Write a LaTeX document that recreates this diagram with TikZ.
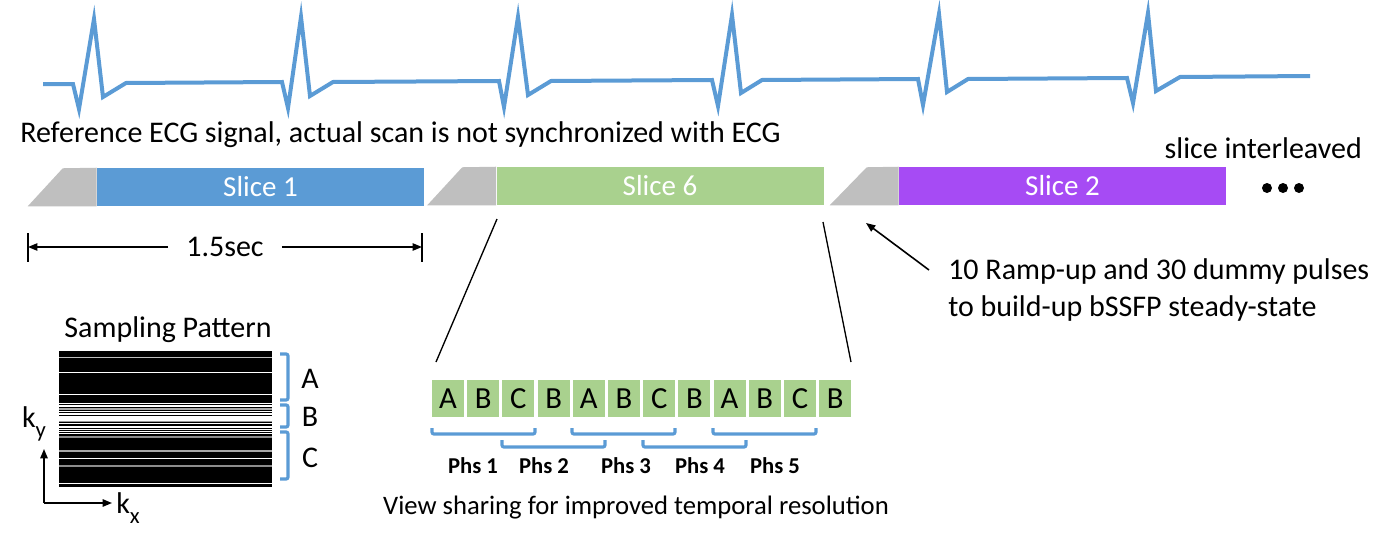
\documentclass[tikz,border=0pt]{standalone}
\usepackage{fontspec}
\setmainfont{Carlito}
\usetikzlibrary{arrows.meta}
\definecolor{ecgblue}{HTML}{5B9BD5}
\definecolor{sgreen}{HTML}{A9D18E}
\definecolor{spurple}{HTML}{A64BF4}
\definecolor{sgray}{HTML}{BFBFBF}
\newcommand{\subl}[1]{\raisebox{-0.35em}{\fontsize{17}{18}\selectfont #1}}
\begin{document}
\begin{tikzpicture}[x=0.75pt,y=-0.75pt,
 txt/.style={font=\fontsize{22.5}{27.75}\selectfont, inner sep=0pt},
 slicebar/.style={minimum width=245.25pt, minimum height=28.5pt, inner sep=0pt, text=white, font=\fontsize{21.75}{26}\selectfont},
 rampfill/.style={fill=sgray},
 blk/.style={fill=sgreen, minimum width=24pt, minimum height=27.75pt, inner sep=0pt, font=\fontsize{23}{26}\selectfont},
 phs/.style={font=\fontsize{17}{20}\selectfont\bfseries, inner sep=0pt},
 bracket/.style={draw=ecgblue, line width=2.4pt, rounded corners=1.5pt},
 tip/.style={-{Triangle[length=7pt,width=5.5pt]}},
 thin/.style={line width=1pt},
 dot/.style={circle, fill=black, minimum size=7.5pt, inner sep=0pt},
]
\useasboundingbox (0,0) rectangle (1392,546);

% ECG reference signal
\draw[ecgblue, line width=3pt, line join=miter]
 (43,84) -- (73,84) -- (79,109) -- (94,19) -- (103,97) -- (126,83)
 -- (282,82) -- (288,108) -- (301,17) -- (310,96) -- (333,82)
 -- (499,81) -- (504,107) -- (518,17) -- (528,95) -- (551,81)
 -- (712,80) -- (718,106) -- (732,15) -- (741,93) -- (762,80)
 -- (918,79) -- (923,105) -- (939,14) -- (947,92) -- (968,79)
 -- (1127,78) -- (1133,103) -- (1148,13) -- (1156,91) -- (1180,77)
 -- (1310,76);

\node[txt, anchor=west] (ref) at (20,135) {Reference ECG signal, actual scan is not synchronized with ECG};

% slices
\node[slicebar, fill=ecgblue] (s1) at (260.5,187) {Slice 1};
\fill[rampfill] (s1.south west) -- ++(-69,0) -- ++(35,-38) -- (s1.north west) -- cycle;
\node[slicebar, fill=sgreen] (s6) at (660,186) {Slice 6};
\fill[rampfill] (s6.south west) -- ++(-69,0) -- ++(35,-38) -- (s6.north west) -- cycle;
\node[slicebar, fill=spurple] (s2) at (1062.5,186) {Slice 2};
\fill[rampfill] (s2.south west) -- ++(-69,0) -- ++(37,-38) -- (s2.north west) -- cycle;

\node[txt, anchor=east] (si) at (1362,148) {slice interleaved};
\node[dot] (d1) at (1267,188) {};
\node[dot] (d2) at (1283,188) {};
\node[dot] (d3) at (1299,188) {};

% 1.5 sec
\coordinate (barLt) at (28,233); \coordinate (barLb) at (28,262);
\coordinate (barRt) at (422,233); \coordinate (barRb) at (422,262);
\coordinate (barL) at (28,247); \coordinate (barR) at (422,247);
\draw[line width=1.2pt] (barLt) -- (barLb);
\draw[line width=1.2pt] (barRt) -- (barRb);
\node[txt, inner xsep=13.5pt] (dim) at (225,247) {1.5sec};
\draw[tip, thin] (dim.west) -- (barL);
\draw[tip, thin] (dim.east) -- (barR);

% zoom lines
\coordinate (z1a) at (497,219); \coordinate (z1b) at (436,362);
\coordinate (z2a) at (823,222); \coordinate (z2b) at (851,362);
\draw[thin] (z1a) -- (z1b);
\draw[thin] (z2a) -- (z2b);

% ramp arrow
\coordinate (ra) at (929,270); \coordinate (rb) at (866,223);
\draw[tip, line width=1.2pt] (ra) -- (rb);
\node[txt, anchor=west, align=left] (rt) at (948,290) {10 Ramp-up and 30 dummy pulses\\to build-up bSSFP steady-state};

% view sharing blocks
\foreach \l [count=\i from 0] in {A,B,C,B,A,B,C,B,A,B,C,B}
  \node[blk] (b\i) at ({448+35.2*\i},398.5) {\l};

\draw[bracket] (432,428) -- (432,434) -- (535,434) -- (535,428);
\draw[bracket] (572,428) -- (572,434) -- (675,434) -- (675,428);
\draw[bracket] (713,428) -- (713,434) -- (816,434) -- (816,428);
\draw[bracket] (502,440) -- (502,447) -- (605,447) -- (605,440);
\draw[bracket] (643,440) -- (643,447) -- (746,447) -- (746,440);

\node[phs] (p1) at (473,466) {Phs 1};
\node[phs] (p2) at (544,466) {Phs 2};
\node[phs] (p3) at (626,466) {Phs 3};
\node[phs] (p4) at (700,466) {Phs 4};
\node[phs] (p5) at (775,466) {Phs 5};

\node[inner sep=0pt, font=\fontsize{20}{24}\selectfont] (vs) at (636,508) {View sharing for improved temporal resolution};

% sampling pattern
\node[txt] (sp) at (168,330) {Sampling Pattern};
\fill[black] (59,351) rectangle (272,487);
\fill[black!25] (59,356.6) rectangle (272,357.6);
\fill[white] (59,371.6) rectangle (272,372.6);
\fill[white] (59,393.8) rectangle (272,395.3);
% B region
\fill[white] (59,402.8) rectangle (272,404.1);
\fill[white] (59,405.4) rectangle (272,406.6);
\fill[black!35] (59,408) rectangle (272,410);
\fill[white] (59,410.6) rectangle (272,411.8);
\fill[white] (59,413) rectangle (272,414.5);
\fill[white] (59,416.3) rectangle (272,421);
\fill[black!40] (59,421.3) rectangle (272,422.3);
\fill[white] (59,422.6) rectangle (272,423.8);
\fill[white] (59,426.4) rectangle (272,427.5);
\fill[white] (59,428.6) rectangle (272,429.6);
\fill[white] (59,430.9) rectangle (272,432);
\fill[white] (59,433.2) rectangle (272,434.3);
\fill[black!45] (59,436) rectangle (272,437.6);
% C region
\fill[black!35] (59,450.4) rectangle (272,451.8);
\fill[white] (59,458) rectangle (272,459.1);
\fill[black!45] (59,464.8) rectangle (272,466.8);
\fill[white] (59,482.6) rectangle (272,483.8);

\draw[bracket] (280,354) -- (288,354) -- (288,400) -- (280,400);
\draw[bracket] (280,405) -- (288,405) -- (288,427) -- (280,427);
\draw[bracket] (280,432) -- (288,432) -- (288,479) -- (280,479);
\node[txt] (la) at (310,379) {A};
\node[txt] (lb) at (310,417) {B};
\node[txt] (lc) at (310,458) {C};

\coordinate (ax0) at (44,503); \coordinate (axy) at (44,449); \coordinate (axx) at (112,503);
\draw[tip, line width=1.2pt] (ax0) -- (axy);
\draw[tip, line width=1.2pt] (ax0) -- (axx);
\node[txt] (ky) at (34,424) {k\subl{y}};
\node[txt] (kx) at (128,508) {k\subl{x}};
\end{tikzpicture}
\end{document}
